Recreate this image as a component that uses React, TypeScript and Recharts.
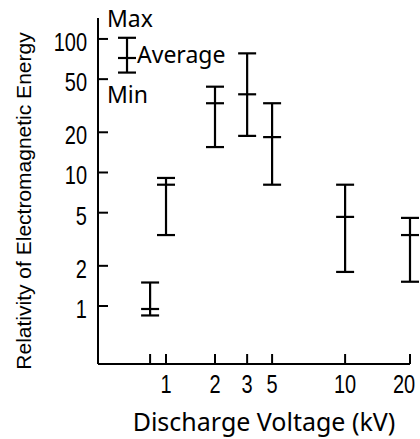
import { ScatterChart, Scatter, XAxis, YAxis, ErrorBar } from 'recharts'

// hand-drawn voltage axis: positions along the axis (0–100) and their labels
const voltagePos = [16.7, 21.8, 37.5, 47.8, 55.8, 79.2, 100]
const voltageLabels = ['', '1', '2', '3', '5', '10', '20']

// relativity of electromagnetic energy per voltage
const energyMax = [1.5, 9.1, 43.9, 78, 33, 8.1, 4.57]
const energyAvg = [0.95, 8.1, 33, 38.5, 18.4, 4.65, 3.4]
const energyMin = [0.85, 3.4, 15.5, 18.8, 8.1, 1.8, 1.52]

// key sample (Max / Average / Min)
const keyPos = [9.3]
const keyMax = [102]
const keyAvg = [72]
const keyMin = [56]

const yTicks = [1, 2, 5, 10, 20, 50, 100]

const toRows = (pos: number[], max: number[], avg: number[], min: number[]) =>
  pos.map((p, i) => ({ pos: p, avg: avg[i], err: [avg[i] - min[i], max[i] - avg[i]] }))

const rows = toRows(voltagePos, energyMax, energyAvg, energyMin)
const keyRows = toRows(keyPos, keyMax, keyAvg, keyMin)

const INK = '#000'
const SANS = '"Liberation Sans", Arial, sans-serif'
const GOTHIC = '"Noto Sans", "DejaVu Sans", sans-serif'

// condensed digits, like the original's typeset numerals
const Narrow = ({ x, y, anchor, children }: any) => (
  <text
    transform={`translate(${x} ${y}) scale(0.8 1)`}
    textAnchor={anchor}
    fontFamily={SANS}
    fontSize={25}
    fill={INK}
  >
    {children}
  </text>
)

const AvgMark = (props: any) => {
  const { cx, cy } = props
  if (cx == null || cy == null) return null
  return <line x1={cx - 9} x2={cx + 9} y1={cy} y2={cy} stroke={INK} strokeWidth={2.2} />
}

const XTick = ({ x, y, payload }: any) => {
  const label = voltageLabels[voltagePos.indexOf(payload.value)] ?? ''
  // keep the last label inside the frame, as in the original
  const lx = Math.min(x, 404)
  return (
    <g>
      <line x1={x} x2={x} y1={y} y2={y - 10} stroke={INK} strokeWidth={2} />
      <Narrow x={lx} y={y + 29} anchor="middle">
        {label}
      </Narrow>
    </g>
  )
}

const YTick = ({ x, y, payload }: any) => (
  <g>
    <line x1={x} x2={x + 10} y1={y} y2={y} stroke={INK} strokeWidth={2} />
    <Narrow x={x - 11} y={y + 12} anchor="end">
      {payload.value}
    </Narrow>
  </g>
)

export default function App() {
  return (
    <div style={{ position: 'relative', width: 420, height: 439, background: '#fff' }}>
      <style>{'body{margin:0}'}</style>
      <ScatterChart width={420} height={439} margin={{ top: 18, right: 10, bottom: 45, left: 38 }}>
        <XAxis
          type="number"
          dataKey="pos"
          domain={[0, 100]}
          ticks={voltagePos}
          tick={<XTick />}
          tickSize={0}
          tickMargin={0}
          tickLine={false}
          height={30}
          axisLine={{ stroke: INK, strokeWidth: 2 }}
          interval={0}
        />
        <YAxis
          type="number"
          dataKey="avg"
          scale="log"
          domain={[0.368, 143.5]}
          allowDataOverflow
          ticks={yTicks}
          tick={<YTick />}
          tickSize={0}
          tickMargin={0}
          tickLine={false}
          width={60}
          axisLine={{ stroke: INK, strokeWidth: 2 }}
          interval={0}
        />
        <Scatter data={rows} shape={<AvgMark />} isAnimationActive={false}>
          <ErrorBar dataKey="err" direction="y" width={9} stroke={INK} strokeWidth={2.2} />
        </Scatter>
        <Scatter data={keyRows} shape={<AvgMark />} isAnimationActive={false}>
          <ErrorBar dataKey="err" direction="y" width={9} stroke={INK} strokeWidth={2.2} />
        </Scatter>
      </ScatterChart>
      <svg
        width={420}
        height={439}
        style={{ position: 'absolute', left: 0, top: 0, pointerEvents: 'none' }}
      >
        <g fontFamily={GOTHIC} fontSize={23} fill={INK}>
          <text x={107} y={27}>Max</text>
          <text x={137} y={63}>Average</text>
          <text x={107} y={103}>Min</text>
        </g>
        <text x={264} y={431} textAnchor="middle" fontFamily={GOTHIC} fontSize={25} fill={INK}>
          Discharge Voltage (kV)
        </text>
        <text
          x={31}
          y={201}
          transform="rotate(-90 31 201)"
          textAnchor="middle"
          fontFamily={SANS}
          fontSize={21}
          fill={INK}
        >
          Relativity of Electromagnetic Energy
        </text>
      </svg>
    </div>
  )
}
